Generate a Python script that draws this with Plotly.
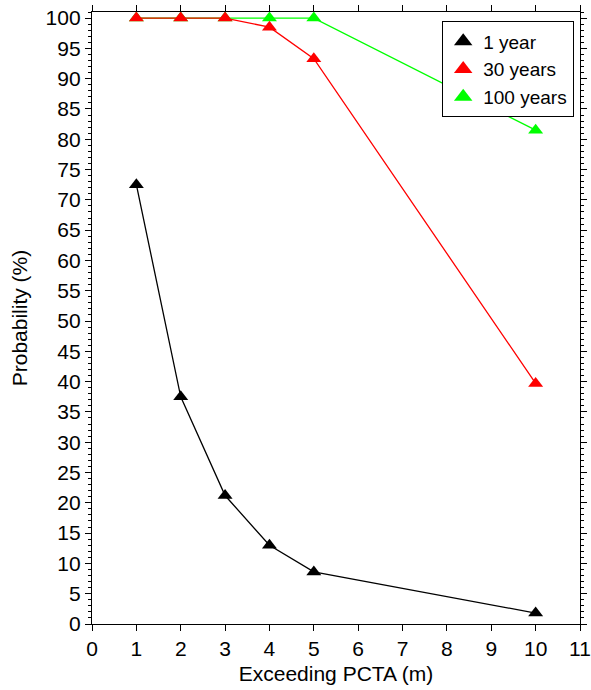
import plotly.graph_objects as go

x_vals = [1, 2, 3, 4, 5, 10]
one_year = [72.5, 37.5, 21.2, 13.0, 8.6, 1.8]
thirty_years = [100, 100, 100, 98.5, 93.3, 39.7]
hundred_years = [100, 100, 100, 100, 100, 81.5]

series = [
    ("1 year", one_year, "black"),
    ("30 years", thirty_years, "#ff0000"),
    ("100 years", hundred_years, "#00ff00"),
]

FONT = "Liberation Sans, Arial, Helvetica, sans-serif"

fig = go.Figure()
# draw in reverse so black is on top
for name, ys, col in reversed(series):
    fig.add_trace(go.Scatter(
        x=x_vals, y=ys, mode="lines+markers", name=name,
        line=dict(color=col, width=1.3),
        marker=dict(symbol="triangle-up", size=13, color=col),
        showlegend=False, cliponaxis=False,
    ))
for name, ys, col in series:
    fig.add_trace(go.Scatter(
        x=[None], y=[None], mode="markers", name=name,
        marker=dict(symbol="triangle-up", size=17, color=col),
        showlegend=True,
    ))

fig.update_layout(
    width=591, height=690,
    margin=dict(l=92, r=11, t=12, b=66, autoexpand=False),
    plot_bgcolor="white", paper_bgcolor="white",
    font=dict(family=FONT, size=21, color="black"),
    showlegend=True,
    legend=dict(
        x=0.717, y=0.985, xanchor="left", yanchor="top",
        bordercolor="black", borderwidth=1.3, bgcolor="white",
        font=dict(size=19), itemwidth=30, tracegroupgap=0,
    ),
)
fig.update_xaxes(
    range=[0, 11], dtick=1, tick0=0, automargin=False,
    showgrid=False, zeroline=False,
    showline=True, linecolor="black", linewidth=1.3, mirror="allticks",
    ticks="outside", ticklen=6, tickwidth=1.3, tickcolor="black",
    title=dict(text="Exceeding PCTA (m)", font=dict(size=21), standoff=6),
    tickfont=dict(size=21),
)
fig.update_yaxes(
    range=[0, 101], dtick=5, tick0=0, automargin=False,
    showgrid=False, zeroline=False,
    showline=True, linecolor="black", linewidth=1.3, mirror="allticks",
    ticks="outside", ticklen=6, tickwidth=1.3, tickcolor="black",
    minor=dict(dtick=1, ticks="outside", ticklen=3, tickwidth=1, tickcolor="black"),
    title=dict(text="Probability (%)", font=dict(size=21), standoff=12),
    tickfont=dict(size=21),
)

fig.write_html("out.html")
